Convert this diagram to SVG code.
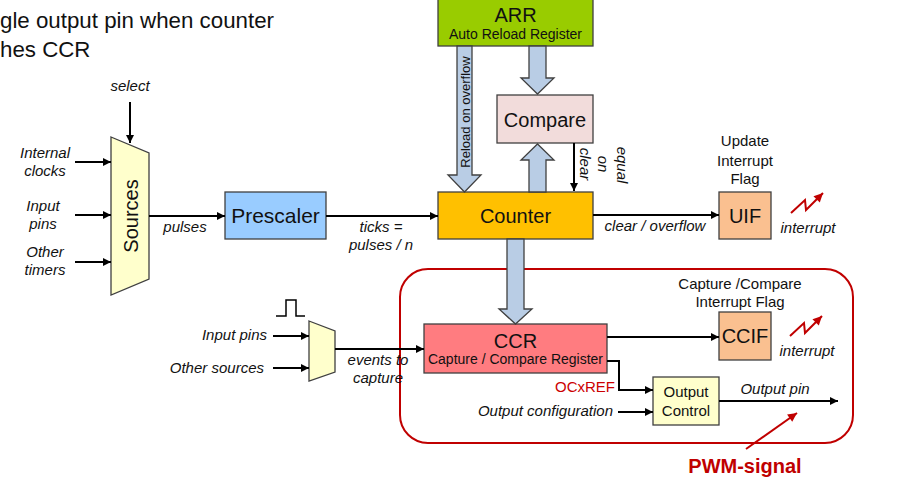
<svg xmlns="http://www.w3.org/2000/svg" width="906" height="480" viewBox="0 0 906 480">
<defs>
<marker id="ah" viewBox="0 0 10 10" refX="10" refY="5" markerWidth="9" markerHeight="8" markerUnits="userSpaceOnUse" orient="auto"><path d="M0,0 L10,5 L0,10 Z" fill="#000"/></marker>
<marker id="ahr" viewBox="0 0 10 10" refX="10" refY="5" markerWidth="10" markerHeight="9" markerUnits="userSpaceOnUse" orient="auto"><path d="M0,0 L10,5 L0,10 Z" fill="#c00000"/></marker>
<style>
text{font-family:"Liberation Sans",Arial,sans-serif;fill:#111}
.it{font-style:italic;font-size:15px}
.lbl{font-size:15px}
.big{font-size:20px}
.sub{font-size:14px}
.c{text-anchor:middle}
.e{text-anchor:end}
.box{stroke:#404040;stroke-width:1.3}
.ba{fill:#b9cde5;stroke:#404040;stroke-width:1.3}
.ln{fill:none;stroke:#000;stroke-width:2}
.red{fill:none;stroke:#c00000;stroke-width:2}
</style>
</defs>
<rect width="906" height="480" fill="#fff"/>
<g id="title">
<text x="0" y="28" style="font-size:22.3px">gle output pin when counter</text>
<text x="0" y="57" style="font-size:22.3px">hes CCR</text>
</g>
<g id="pwm-region">
<rect x="400" y="269" width="453" height="174" rx="28" ry="28" class="red"/>
</g>
<g id="arr">
<rect x="438" y="-2" width="155" height="48" fill="#99cc00" class="box"/>
<text x="515.5" y="22" class="big c">ARR</text>
<text x="515.5" y="39" class="sub c">Auto Reload Register</text>
</g>
<g id="compare">
<rect x="497" y="95" width="96" height="48" fill="#f2dcdb" class="box"/>
<text x="545" y="127" class="big c">Compare</text>
</g>
<g id="counter">
<rect x="438" y="192" width="155" height="47" fill="#ffc000" class="box"/>
<text x="515.5" y="223" class="big c">Counter</text>
</g>
<g id="sources">
<polygon points="111,137 149,153 149,279 111,295" fill="#ffffcc" class="box"/>
<text transform="translate(138,216) rotate(-90)" class="big c">Sources</text>
</g>
<g id="prescaler">
<rect x="225" y="192" width="101" height="47" fill="#99ccff" class="box"/>
<text x="275.5" y="223" class="c" style="font-size:21px">Prescaler</text>
</g>
<g id="uif">
<rect x="719" y="192" width="52" height="47" fill="#fac090" class="box"/>
<text x="745" y="223" class="big c">UIF</text>
<text x="745" y="146" class="lbl c">Update</text>
<text x="745" y="166" class="lbl c">Interrupt</text>
<text x="745" y="184" class="lbl c">Flag</text>
</g>
<g id="ccr">
<rect x="424" y="324" width="183" height="49" fill="#ff7c80" class="box"/>
<text x="515.5" y="348" class="big c">CCR</text>
<text x="515.5" y="364" class="sub c">Capture / Compare Register</text>
</g>
<g id="ccif">
<rect x="719" y="312" width="52" height="48" fill="#fac090" class="box"/>
<text x="745" y="343" class="big c">CCIF</text>
<text x="740" y="289" class="lbl c">Capture /Compare</text>
<text x="740" y="307" class="lbl c">Interrupt Flag</text>
</g>
<g id="capture-mux">
<polygon points="309,321 335,331 335,372 309,381" fill="#ffffcc" class="box"/>
<polyline points="276,316 286,316 286,300 296,300 296,316 305,316" fill="none" stroke="#000" stroke-width="1.5"/>
</g>
<g id="output-control">
<rect x="653" y="377" width="66" height="48" fill="#ffffcc" class="box"/>
<text x="686" y="397" class="lbl c">Output</text>
<text x="686" y="416" class="lbl c">Control</text>
</g>
<g id="connectors">
<polygon class="ba" points="457,46 472,46 472,175 481,175 464.5,192 448,175 457,175"/>
<polygon class="ba" points="529,46 546,46 546,78 554,78 537.5,94 521,78 529,78"/>
<polygon class="ba" points="529,192 546,192 546,160 554,160 537.5,144 521,160 529,160"/>
<polygon class="ba" points="507,239 524,239 524,309 532,309 515.5,324 499,309 507,309"/>
<line x1="130" y1="102" x2="130" y2="143" class="ln" marker-end="url(#ah)"/>
<line x1="75" y1="162" x2="111" y2="162" class="ln" marker-end="url(#ah)"/>
<line x1="75" y1="215" x2="111" y2="215" class="ln" marker-end="url(#ah)"/>
<line x1="75" y1="262" x2="111" y2="262" class="ln" marker-end="url(#ah)"/>
<line x1="149" y1="216" x2="225" y2="216" class="ln" marker-end="url(#ah)"/>
<line x1="326" y1="216" x2="438" y2="216" class="ln" marker-end="url(#ah)"/>
<line x1="593" y1="215" x2="719" y2="215" class="ln" marker-end="url(#ah)"/>
<line x1="574" y1="143" x2="574" y2="191" class="ln" marker-end="url(#ah)"/>
<line x1="273" y1="336" x2="309" y2="336" class="ln" marker-end="url(#ah)"/>
<line x1="273" y1="368" x2="309" y2="368" class="ln" marker-end="url(#ah)"/>
<line x1="335" y1="349" x2="424" y2="349" class="ln" marker-end="url(#ah)"/>
<line x1="607" y1="337" x2="719" y2="337" class="ln" marker-end="url(#ah)"/>
<polyline points="607,361 619,361 619,390 653,390" class="ln" marker-end="url(#ah)"/>
<line x1="618" y1="412" x2="653" y2="412" class="ln" marker-end="url(#ah)"/>
<line x1="719" y1="401" x2="838" y2="401" class="ln" marker-end="url(#ah)"/>
<line x1="746" y1="449" x2="797" y2="413" class="red" marker-end="url(#ahr)"/>
<polyline points="791,213 805,200 806,210 823,193" class="red" marker-end="url(#ahr)"/>
<polyline points="790,336 804,323 805,333 822,316" class="red" marker-end="url(#ahr)"/>
</g>
<g id="labels">
<text x="130" y="91" class="it c">select</text>
<text x="45" y="158" class="it c">Internal</text>
<text x="45" y="176" class="it c">clocks</text>
<text x="43" y="211" class="it c">Input</text>
<text x="43" y="229" class="it c">pins</text>
<text x="45" y="257" class="it c">Other</text>
<text x="45" y="275" class="it c">timers</text>
<text x="185" y="232" class="it c">pulses</text>
<text x="381" y="232" class="it c">ticks =</text>
<text x="381" y="250" class="it c">pulses / n</text>
<text x="655" y="231" class="it c">clear / overflow</text>
<text x="808" y="233" class="it c">interrupt</text>
<text x="807" y="356" class="it c">interrupt</text>
<text transform="translate(470,112) rotate(-90)" class="c" style="font-size:13px">Reload on overflow</text>
<text transform="translate(580,164) rotate(90)" class="it c">clear</text>
<text transform="translate(598,164) rotate(90)" class="it c">on</text>
<text transform="translate(617,165) rotate(90)" class="it c">equal</text>
<text x="267" y="340" class="it e">Input pins</text>
<text x="264" y="373" class="it e">Other sources</text>
<text x="378" y="365" class="it c">events to</text>
<text x="378" y="383" class="it c">capture</text>
<text x="615" y="392" class="lbl e" style="fill:#cc0000">OCxREF</text>
<text x="613" y="416" class="it e">Output configuration</text>
<text x="775" y="394" class="it c">Output pin</text>
<text x="745" y="473" class="c" style="font-size:20px;font-weight:bold;fill:#c00000">PWM-signal</text>
</g>
</svg>
